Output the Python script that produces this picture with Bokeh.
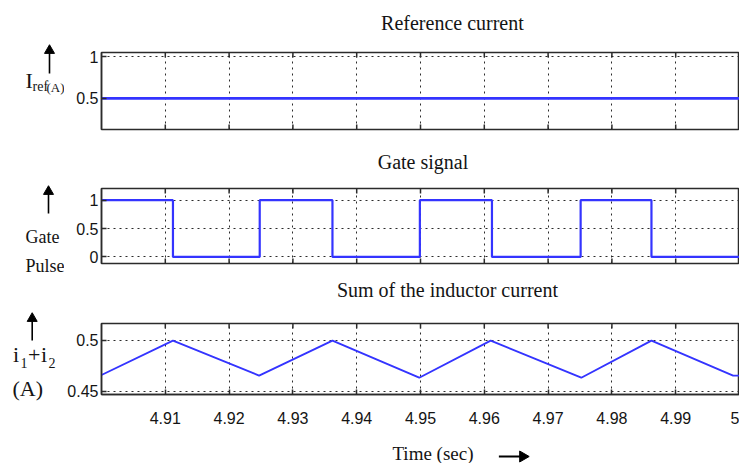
import math
from bokeh.plotting import figure
from bokeh.layouts import column, row
from bokeh.models import Range1d, FixedTicker, Grid
from bokeh.core.properties import value
from bokeh.embed import file_html
from bokeh.resources import INLINE

# ---------------- data ----------------
t_ref = [4.90, 5.00]
i_ref = [0.5, 0.5]

gate_edges = [4.90, 4.9112, 4.9248, 4.9362, 4.9499, 4.9612, 4.9751, 4.9862, 5.00]
gate_levels = [1, 0, 1, 0, 1, 0, 1, 0, 0]

cur_t = [4.90, 4.9112, 4.9247, 4.9362, 4.9498, 4.9610, 4.9752, 4.9862, 4.9990, 5.00]
cur_v = [0.4661, 0.4998, 0.4655, 0.4998, 0.4634, 0.4998, 0.4634, 0.4998, 0.4655, 0.4655]

x_ticks = [4.91, 4.92, 4.93, 4.94, 4.95, 4.96, 4.97, 4.98, 4.99, 5.00]
x_tick_labels = ["4.91", "4.92", "4.93", "4.94", "4.95", "4.96", "4.97", "4.98", "4.99", "5"]

ref_yticks = [0.5, 1]
ref_ylabels = ["0.5", "1"]
gate_yticks = [0, 0.5, 1]
gate_ylabels = ["0", "0.5", "1"]
cur_yticks = [0.45, 0.5]
cur_ylabels = ["0.45", "0.5"]

titles = ["Reference current", "Gate signal", "Sum of the inductor current"]
x_label = "Time (sec)"

SERIF = "'Liberation Serif', 'Times New Roman', serif"
NARROW = "'Liberation Sans Narrow', 'Arial Narrow', sans-serif"
BLUE = "#3434ff"
DARK = "#2b2b2b"
TXT = "#141414"

PAGE_W, PAGE_H = 739, 463
LEFT_W = 64                 # width of the left label column
RIGHT_W = PAGE_W - LEFT_W   # width of the plot column
AX_LEFT = 36                # y-axis border inside each plot


def drop_grids(p):
    p.center = [r for r in p.center if not isinstance(r, Grid)]


def canvas_fig(w, h, left=0):
    """A plain drawing area whose data units are canvas pixels (y grows downward)."""
    p = figure(width=w, height=h, x_range=Range1d(left, w), y_range=Range1d(h, 0), title=None,
               x_axis_location=None, y_axis_location=None, output_backend="svg",
               toolbar_location=None, min_border=0, min_border_left=left, min_border_right=0,
               min_border_top=0, min_border_bottom=0)
    p.outline_line_color = None
    drop_grids(p)
    return p


def txt(p, x, y, text, size, align="left"):
    # y is the vertical centre of the text
    p.text(x=[x], y=[y], text=[text], text_font=value(SERIF), text_font_size=value(f"{size}px"),
           text_align=align, text_baseline="middle", text_color=TXT)


def up_arrow(p, x, y_bottom, y_tip):
    p.segment(x0=[x], y0=[y_bottom], x1=[x], y1=[y_tip + 6], line_color="black", line_width=1.6)
    p.scatter(x=[x], y=[y_tip + 5], marker="triangle", size=10, fill_color="black", line_color="black")


def main_fig(height, top, bottom, yr, yticks, ylabels, show_x):
    p = figure(width=RIGHT_W, height=height, x_range=Range1d(4.90, 5.00), y_range=Range1d(*yr),
               output_backend="svg", toolbar_location=None, title=None,
               x_axis_location="below" if show_x else None, y_axis_location="left",
               min_border_left=AX_LEFT, min_border_right=0, min_border_top=top, min_border_bottom=bottom)
    p.outline_line_color = DARK
    p.outline_line_width = 1.5
    drop_grids(p)

    axes = [p.yaxis[0]]
    p.yaxis[0].ticker = FixedTicker(ticks=yticks)
    p.yaxis[0].major_label_overrides = {t: l for t, l in zip(yticks, ylabels)}
    if show_x:
        xa = p.xaxis[0]
        xa.ticker = FixedTicker(ticks=x_ticks)
        xa.major_label_overrides = {t: l for t, l in zip(x_ticks, x_tick_labels)}
        axes.append(xa)
    for ax in axes:
        ax.axis_label = None
        ax.major_tick_in = 5
        ax.major_tick_out = 0
        ax.minor_tick_in = 0
        ax.minor_tick_out = 0
        ax.minor_tick_line_color = None
        ax.axis_line_color = DARK
        ax.axis_line_width = 1.5
        ax.major_tick_line_color = DARK
        ax.major_tick_line_width = 1.5
        ax.major_label_text_font = NARROW
        ax.major_label_text_font_size = "16px"
        ax.major_label_text_color = TXT
        ax.major_label_standoff = 3
    if show_x:
        p.xaxis[0].major_label_standoff = 17

    for dim, ticks in ((0, x_ticks), (1, yticks)):
        p.add_layout(Grid(dimension=dim, ticker=FixedTicker(ticks=ticks), grid_line_color=DARK,
                          grid_line_dash="2 4", grid_line_width=1))

    # inward tick marks on the top edge (and bottom edge when there is no bottom axis)
    edges = [yr[1]] if show_x else [yr[0], yr[1]]
    for e in edges:
        p.scatter(x=x_ticks, y=[e] * len(x_ticks), marker="dash", angle=math.pi / 2, size=10,
                  line_color=DARK, line_width=1.5)
    return p


# ---------------- left label column (page coordinates) ----------------
L = canvas_fig(LEFT_W, PAGE_H)
up_arrow(L, 49, 73, 45)
txt(L, 25, 80, "I", 22)
txt(L, 32, 86, "ref", 14)
txt(L, 46, 87, "(A)", 13)

up_arrow(L, 48, 213, 186)
txt(L, 25, 236.5, "Gate", 18)
txt(L, 25, 265, "Pulse", 18)

up_arrow(L, 31.7, 340, 313)
txt(L, 12.5, 354, "i", 22)
txt(L, 20, 362, "1", 14)
txt(L, 27.5, 354, "+", 22)
txt(L, 40.5, 354, "i", 22)
txt(L, 48, 362, "2", 14)
txt(L, 12, 387.5, "(A)", 22)

# ---------------- plot column ----------------
t1 = canvas_fig(RIGHT_W, 46, AX_LEFT)
txt(t1, 451.5 - LEFT_W, 22, titles[0], 20, align="center")

p1 = main_fig(85, 6, 2, (0.125, 1.052), ref_yticks, ref_ylabels, False)
p1.line(t_ref, i_ref, line_color=BLUE, line_width=2.6)

t2 = canvas_fig(RIGHT_W, 53, AX_LEFT)
txt(t2, 422 - LEFT_W, 30, titles[1], 20, align="center")

p2 = main_fig(81, 4, 2, (-0.116, 1.206), gate_yticks, gate_ylabels, False)
p2.step(gate_edges, gate_levels, mode="after", line_color=BLUE, line_width=2.2)

t3 = canvas_fig(RIGHT_W, 52, AX_LEFT)
txt(t3, 446.5 - LEFT_W, 24, titles[2], 20, align="center")

p3 = main_fig(116, 6, 39, (0.447, 0.5165), cur_yticks, cur_ylabels, True)
p3.line(cur_t, cur_v, line_color=BLUE, line_width=1.9)

t4 = canvas_fig(RIGHT_W, 30, AX_LEFT)
txt(t4, 432 - LEFT_W, 19.5, x_label, 19, align="center")
t4.segment(x0=[498 - LEFT_W], y0=[23], x1=[520 - LEFT_W], y1=[23], line_color="black", line_width=1.8)
t4.scatter(x=[522 - LEFT_W], y=[23], marker="triangle", angle=-math.pi / 2, size=11,
           fill_color="black", line_color="black")

layout = row(L, column(t1, p1, t2, p2, t3, p3, t4, spacing=0), spacing=0)
open("out.html", "w").write(file_html(layout, INLINE))
